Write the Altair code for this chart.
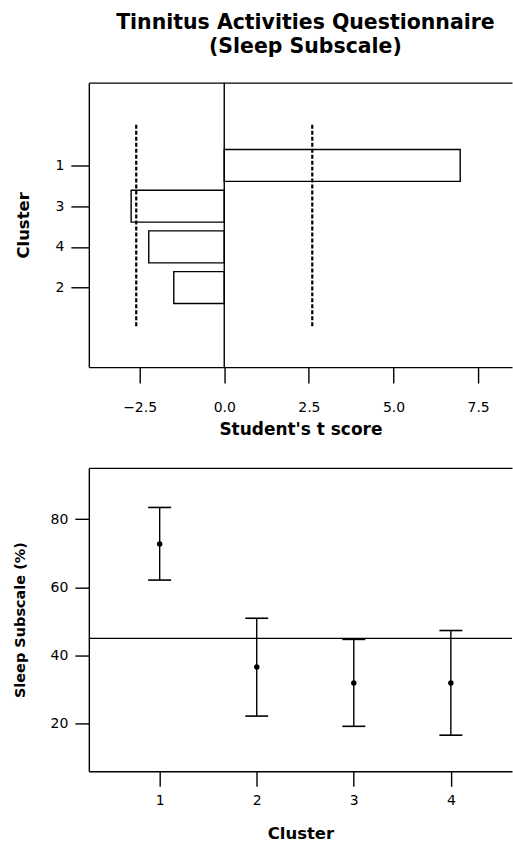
import json
import altair as alt
import pandas as pd

# ---------------- data ----------------
# top panel: clusters in display order (top to bottom)
top_clusters = ["1", "3", "4", "2"]
top_rank = [1, 2, 3, 4]
t_scores = [6.97, -2.75, -2.23, -1.49]
crit_t = [-2.6, 2.6]
crit_lo = [0, 0]
crit_hi = [5, 5]
t_ticks = [-2.5, 0.0, 2.5, 5.0, 7.5]

# bottom panel
clusters = [1, 2, 3, 4]
mean_pct = [72.7, 36.6, 31.9, 31.9]
upper_pct = [83.4, 50.9, 44.7, 47.3]
lower_pct = [62.1, 22.2, 19.2, 16.6]
grand_mean = [45.0]
pct_ticks = [20, 40, 60, 80]

FONT = "DejaVu Sans"

top_df = pd.DataFrame({"cluster": top_clusters, "rank": top_rank, "t": t_scores})
crit_df = pd.DataFrame({"t": crit_t, "lo": crit_lo, "hi": crit_hi})
zero_df = pd.DataFrame({"z": [0.0]})
bot_df = pd.DataFrame({"cluster": clusters, "mean": mean_pct,
                       "upper": upper_pct, "lower": lower_pct})
gm_df = pd.DataFrame({"g": grand_mean})

W = 424

# ---------------- top panel ----------------
xs = alt.Scale(domain=[-4, 8.5], nice=False, zero=False)
ys = alt.Scale(domain=[-0.91, 5.83], reverse=True, nice=False, zero=False)
label_map = json.dumps([""] + top_clusters)

bars = alt.Chart(top_df).mark_bar(
    orient="horizontal", size=32, fill="white", stroke="black", strokeWidth=1.4
).encode(
    x=alt.X("t:Q", scale=xs,
            axis=alt.Axis(values=t_ticks, format=".1f", title="Student's t score",
                          tickSize=16, labelPadding=17, titlePadding=8,
                          titleFontSize=17)),
    x2=alt.datum(0),
    y=alt.Y("rank:Q", scale=ys,
            axis=alt.Axis(values=top_rank, labelExpr=f"{label_map}[datum.value]",
                          title="Cluster", tickSize=18, labelPadding=7, titlePadding=24,
                          titleFontSize=16.5)),
)

crit = alt.Chart(crit_df).mark_rule(
    color="black", strokeWidth=2.2, strokeDash=[4, 2]
).encode(
    x=alt.X("t:Q", scale=xs, axis=None),
    y=alt.Y("lo:Q", scale=ys),
    y2="hi:Q",
)

zero = alt.Chart(zero_df).mark_rule(color="black", strokeWidth=1.4).encode(
    x=alt.X("z:Q", scale=xs,
            axis=alt.Axis(orient="top", labels=False, ticks=False, title=None, domain=True)),
)

top = alt.layer(bars, crit, zero).resolve_axis(x="independent").properties(
    width=W, height=285,
    title=alt.TitleParams(
        text=["Tinnitus Activities Questionnaire", "(Sleep Subscale)"],
        font=FONT, fontSize=20.5, fontWeight="bold", lineHeight=24,
        anchor="middle", frame="group", dx=5, offset=25, color="black",
    ),
)

# ---------------- bottom panel ----------------
xb = alt.Scale(domain=[0.27, 4.63], nice=False, zero=False)
yb = alt.Scale(domain=[6, 95], nice=False, zero=False)

xenc = alt.X("cluster:Q", scale=xb,
             axis=alt.Axis(values=clusters, format="d", title="Cluster",
                           tickSize=15, labelPadding=7, titlePadding=18,
                           titleFontSize=16.5))

whisk = alt.Chart(bot_df).mark_rule(color="black", strokeWidth=1.4).encode(
    x=xenc,
    y=alt.Y("lower:Q", scale=yb,
            axis=alt.Axis(values=pct_ticks, title="Sleep Subscale (%)",
                          tickSize=14, labelPadding=7, titlePadding=23,
                          titleFontSize=14.5)),
    y2="upper:Q",
)
cap_hi = alt.Chart(bot_df).mark_tick(
    orient="horizontal", size=23, thickness=1.6, color="black", opacity=1
).encode(x=alt.X("cluster:Q", scale=xb, axis=None), y=alt.Y("upper:Q", scale=yb))
cap_lo = alt.Chart(bot_df).mark_tick(
    orient="horizontal", size=23, thickness=1.6, color="black", opacity=1
).encode(x=alt.X("cluster:Q", scale=xb, axis=None), y=alt.Y("lower:Q", scale=yb))
pts = alt.Chart(bot_df).mark_circle(size=30, color="black", opacity=1).encode(
    x=alt.X("cluster:Q", scale=xb, axis=None), y=alt.Y("mean:Q", scale=yb))
# horizontal reference line (overall mean) spanning whole width
gm = alt.Chart(gm_df).mark_rule(color="black", strokeWidth=1.4).encode(
    y=alt.Y("g:Q", scale=yb),
)
border = alt.Chart(bot_df).mark_point(opacity=0).encode(
    x=alt.X("cluster:Q", scale=xb,
            axis=alt.Axis(orient="top", labels=False, ticks=False, title=None, domain=True)),
    y=alt.Y("mean:Q", scale=yb),
)

bottom = alt.layer(whisk, cap_hi, cap_lo, pts, gm, border).resolve_axis(
    x="independent").properties(width=W, height=304)

chart = alt.vconcat(top, bottom, spacing=30).properties(
    padding={"left": 12, "top": 11, "right": 0, "bottom": 0}
).configure_view(stroke=None).configure_axis(
    domainColor="black", domainWidth=1.4, tickColor="black", tickWidth=1.4,
    labelColor="black", labelFont=FONT, labelFontSize=14, grid=False,
    titleColor="black", titleFont=FONT, titleFontWeight="bold",
)

chart.save("out.html", embed_options={"renderer": "svg", "actions": False})
